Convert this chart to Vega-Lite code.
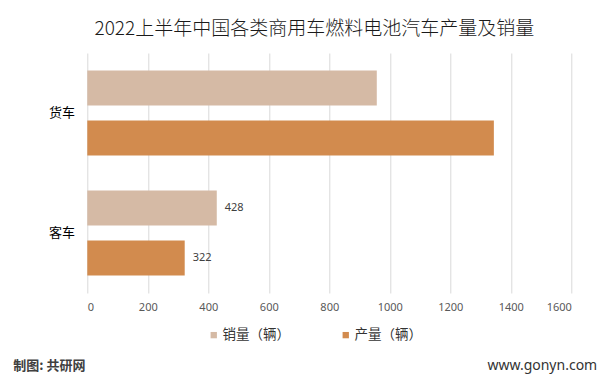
{
  "$schema": "https://vega.github.io/schema/vega-lite/v6.json",
  "width": 484,
  "height": 240,
  "autosize": {"type": "none"},
  "padding": {"left": 87.3, "top": 53, "right": 39.7, "bottom": 92},
  "background": "white",
  "title": {
    "text": "2022上半年中国各类商用车燃料电池汽车产量及销量",
    "anchor": "middle",
    "dx": -15,
    "offset": 14,
    "fontSize": 19,
    "fontWeight": 300,
    "color": "#1a1a1a",
    "font": "Noto Sans CJK SC"
  },
  "data": {
    "values": [
      {"type": "货车", "series": "销量（辆）", "value": 957},
      {"type": "货车", "series": "产量（辆）", "value": 1344},
      {"type": "客车", "series": "销量（辆）", "value": 428},
      {"type": "客车", "series": "产量（辆）", "value": 322}
    ]
  },
  "encoding": {
    "y": {
      "field": "type",
      "type": "nominal",
      "sort": ["货车", "客车"],
      "scale": {"paddingInner": 0, "paddingOuter": 0},
      "axis": {
        "title": "www.gonyn.com",
        "titleAngle": 0,
        "titleX": 509.4,
        "titleY": 312,
        "titleAlign": "right",
        "titleBaseline": "middle",
        "titleFontSize": 14,
        "titleFontWeight": "normal",
        "titleColor": "#333333",
        "titleFont": "Noto Sans",
        "domain": false,
        "ticks": false,
        "tickSize": 0,
        "labelPadding": 12.7,
        "labelFontSize": 13,
        "labelColor": "#000000",
        "labelFont": "Noto Sans CJK SC"
      }
    },
    "yOffset": {
      "field": "series",
      "type": "nominal",
      "sort": ["销量（辆）", "产量（辆）"],
      "scale": {"paddingInner": 0.3, "paddingOuter": 0.35}
    },
    "x": {
      "field": "value",
      "type": "quantitative",
      "scale": {"domain": [0, 1600], "nice": false},
      "axis": {
        "values": [0, 200, 400, 600, 800, 1000, 1200, 1400, 1600],
        "format": "d",
        "title": "制图: 共研网",
        "titleX": -74.6,
        "titleY": 72,
        "titleAlign": "left",
        "titleBaseline": "middle",
        "titleFontSize": 13,
        "titleFontWeight": "bold",
        "titleColor": "#404040",
        "titleFont": "Noto Sans CJK SC",
        "domain": false,
        "ticks": false,
        "tickSize": 0,
        "grid": true,
        "gridColor": "#d9d9d9",
        "labelPadding": 8,
        "labelFontSize": 11,
        "labelColor": "#595959",
        "labelFont": "Noto Sans"
      }
    }
  },
  "layer": [
    {
      "mark": {"type": "bar"},
      "encoding": {
        "color": {
          "field": "series",
          "type": "nominal",
          "sort": ["销量（辆）", "产量（辆）"],
          "scale": {"domain": ["销量（辆）", "产量（辆）"], "range": ["#D5BAA5", "#D28B4E"]},
          "legend": {
            "title": null,
            "orient": "none",
            "direction": "horizontal",
            "legendX": 119.7,
            "legendY": 275,
            "padding": 0,
            "symbolType": "square",
            "symbolSize": 40,
            "symbolStrokeWidth": 0,
            "labelFontSize": 13.5,
            "labelColor": "#333333",
            "labelFont": "Noto Sans CJK SC",
            "labelOffset": 2,
            "columnPadding": 49
          }
        }
      }
    },
    {
      "transform": [{"filter": "datum.type === '客车'"}],
      "mark": {"type": "text", "align": "left", "baseline": "middle", "dx": 8, "fontSize": 11, "color": "#404040", "font": "Noto Sans"},
      "encoding": {"text": {"field": "value", "type": "quantitative"}}
    }
  ],
  "config": {"view": {"stroke": null}, "font": "Noto Sans CJK SC"}
}
